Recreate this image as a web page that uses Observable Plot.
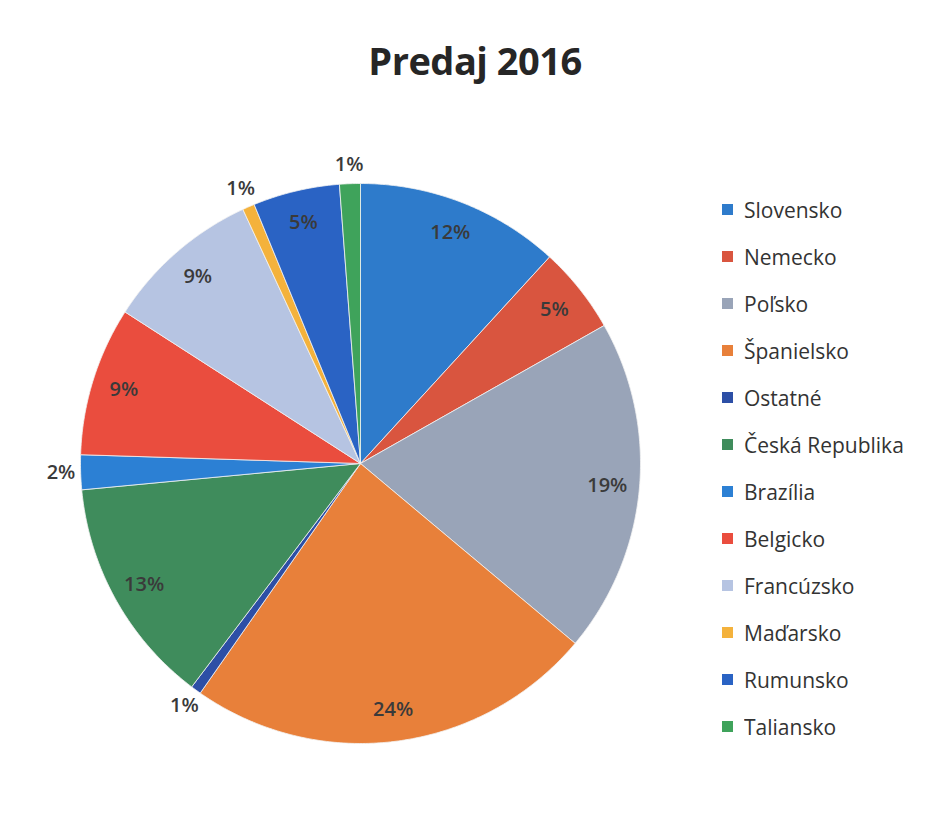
<!DOCTYPE html>
<html>
<head>
<meta charset="utf-8">
<script src="https://cdn.jsdelivr.net/npm/d3@7"></script>
<script src="https://cdn.jsdelivr.net/npm/@observablehq/plot@0.6"></script>
<style>
  html, body { margin: 0; padding: 0; background: #fff; }
  #wrap { position: relative; width: 930px; height: 836px; overflow: hidden; background: #fff; }
  #title { position: absolute; top: 38px; left: 0; width: 950px; text-align: center;
           font-family: "Open Sans", sans-serif; font-weight: 700; font-size: 38px; line-height: 44px; color: #262626; letter-spacing: -0.5px; }
  #chart { position: absolute; top: 110px; left: 0; }
  #legend { position: absolute; left: 722px; top: 186px; }
  #legend [class$="-swatch"] { height: 47px; padding-bottom: 0 !important; margin: 0 !important; }
  #legend [class$="-swatch"] svg { margin-right: 11px !important; }
</style>
</head>
<body>
<div id="wrap">
  <div id="title">Predaj 2016</div>
  <div id="chart"></div>
  <div id="legend"></div>
</div>
<script>
const countries = ["Slovensko", "Nemecko", "Poľsko", "Španielsko", "Ostatné", "Česká Republika",
  "Brazília", "Belgicko", "Francúzsko", "Maďarsko", "Rumunsko", "Taliansko"];
const shares = [11.8, 5.0, 19.3, 23.6, 0.6, 13.2, 2.0, 8.6, 9.0, 0.7, 5.0, 1.2];
const colors = ["#2E7BCB", "#D9553F", "#99A4B8", "#E8803A", "#2D4FA6", "#3F8C5C",
  "#2C80D4", "#EA4D3E", "#B6C4E2", "#F4B23C", "#2A63C4", "#3FA35B"];

// build slice polygons (clockwise from 12 o'clock) in unit coordinates
const total = d3.sum(shares);
const slicePts = [];
const labels = [];
let acc = 0;
countries.forEach((name, i) => {
  const a0 = acc / total * 2 * Math.PI;
  acc += shares[i];
  const a1 = acc / total * 2 * Math.PI;
  const n = Math.max(2, Math.ceil((a1 - a0) / 0.01));
  slicePts.push({name, x: 0, y: 0});
  for (let k = 0; k <= n; ++k) {
    const a = a0 + (a1 - a0) * k / n;
    slicePts.push({name, x: Math.sin(a), y: Math.cos(a)});
  }
  slicePts.push({name, x: 0, y: 0});
  const am = (a0 + a1) / 2;
  const r = shares[i] < 3 ? 1.07 : 0.885;
  labels.push({name, x: r * Math.sin(am), y: r * Math.cos(am), text: Math.round(shares[i]) + "%"});
});

const chart = Plot.plot({
  width: 700,
  height: 700,
  margin: 0,
  x: {domain: [-1, 1], range: [80, 640], axis: null},
  y: {domain: [-1, 1], range: [633, 73], axis: null},
  color: {type: "ordinal", domain: countries, range: colors},
  style: {background: "transparent", overflow: "visible"},
  marks: [
    Plot.line(slicePts, {x: "x", y: "y", z: "name", fill: "name", stroke: "#f2f2f2", strokeWidth: 0.8}),
    Plot.text(labels, {x: "x", y: "y", text: "text", fill: "#3a3a3a",
      fontFamily: "Open Sans", fontSize: 20, fontWeight: 600})
  ]
});
document.getElementById("chart").appendChild(chart);

const legend = Plot.legend({
  color: {type: "ordinal", domain: countries, range: colors},
  legend: "swatches",
  columns: 1,
  swatchSize: 11,
  className: "lg",
  style: {fontFamily: "Open Sans", fontSize: "21px", color: "#333", margin: 0}
});
document.getElementById("legend").appendChild(legend);
</script>
</body>
</html>
